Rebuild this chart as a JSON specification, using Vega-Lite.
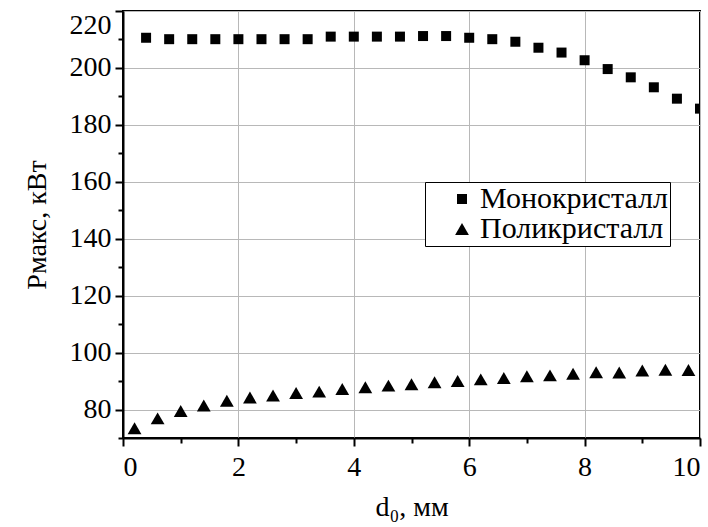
{
  "$schema": "https://vega.github.io/schema/vega-lite/v6.json",
  "width": 577,
  "height": 427,
  "autosize": "none",
  "padding": {"left": 123, "top": 11, "right": 8, "bottom": 89},
  "background": "white",
  "config": {
    "font": "Liberation Serif",
    "view": {"stroke": "black", "strokeWidth": 2}
  },
  "data": {
    "values": [
      {"d": 0.4, "P": 210.6, "series": "Монокристалл"},
      {"d": 0.8, "P": 210.1, "series": "Монокристалл"},
      {"d": 1.2, "P": 210.1, "series": "Монокристалл"},
      {"d": 1.6, "P": 210.1, "series": "Монокристалл"},
      {"d": 2.0, "P": 210.1, "series": "Монокристалл"},
      {"d": 2.4, "P": 210.1, "series": "Монокристалл"},
      {"d": 2.8, "P": 210.1, "series": "Монокристалл"},
      {"d": 3.2, "P": 210.1, "series": "Монокристалл"},
      {"d": 3.6, "P": 211.0, "series": "Монокристалл"},
      {"d": 4.0, "P": 211.0, "series": "Монокристалл"},
      {"d": 4.4, "P": 211.0, "series": "Монокристалл"},
      {"d": 4.8, "P": 211.0, "series": "Монокристалл"},
      {"d": 5.2, "P": 211.2, "series": "Монокристалл"},
      {"d": 5.6, "P": 211.2, "series": "Монокристалл"},
      {"d": 6.0, "P": 210.6, "series": "Монокристалл"},
      {"d": 6.4, "P": 210.1, "series": "Монокристалл"},
      {"d": 6.8, "P": 209.2, "series": "Монокристалл"},
      {"d": 7.2, "P": 207.1, "series": "Монокристалл"},
      {"d": 7.6, "P": 205.4, "series": "Монокристалл"},
      {"d": 8.0, "P": 202.7, "series": "Монокристалл"},
      {"d": 8.4, "P": 199.6, "series": "Монокристалл"},
      {"d": 8.8, "P": 196.7, "series": "Монокристалл"},
      {"d": 9.2, "P": 193.2, "series": "Монокристалл"},
      {"d": 9.6, "P": 189.2, "series": "Монокристалл"},
      {"d": 10.0, "P": 185.7, "series": "Монокристалл"},
      {"d": 0.2, "P": 73.4, "series": "Поликристалл"},
      {"d": 0.6, "P": 76.9, "series": "Поликристалл"},
      {"d": 1.0, "P": 79.5, "series": "Поликристалл"},
      {"d": 1.4, "P": 81.4, "series": "Поликристалл"},
      {"d": 1.8, "P": 83.1, "series": "Поликристалл"},
      {"d": 2.2, "P": 84.2, "series": "Поликристалл"},
      {"d": 2.6, "P": 84.9, "series": "Поликристалл"},
      {"d": 3.0, "P": 85.8, "series": "Поликристалл"},
      {"d": 3.4, "P": 86.3, "series": "Поликристалл"},
      {"d": 3.8, "P": 87.2, "series": "Поликристалл"},
      {"d": 4.2, "P": 87.8, "series": "Поликристалл"},
      {"d": 4.6, "P": 88.4, "series": "Поликристалл"},
      {"d": 5.0, "P": 88.9, "series": "Поликристалл"},
      {"d": 5.4, "P": 89.6, "series": "Поликристалл"},
      {"d": 5.8, "P": 90.0, "series": "Поликристалл"},
      {"d": 6.2, "P": 90.6, "series": "Поликристалл"},
      {"d": 6.6, "P": 91.1, "series": "Поликристалл"},
      {"d": 7.0, "P": 91.7, "series": "Поликристалл"},
      {"d": 7.4, "P": 92.0, "series": "Поликристалл"},
      {"d": 7.8, "P": 92.6, "series": "Поликристалл"},
      {"d": 8.2, "P": 93.1, "series": "Поликристалл"},
      {"d": 8.6, "P": 93.0, "series": "Поликристалл"},
      {"d": 9.0, "P": 93.7, "series": "Поликристалл"},
      {"d": 9.4, "P": 94.0, "series": "Поликристалл"},
      {"d": 9.8, "P": 93.9, "series": "Поликристалл"}
    ]
  },
  "layer": [
    {
      "mark": {"type": "point", "filled": true, "opacity": 1, "color": "black", "clip": true},
      "encoding": {
        "x": {
          "field": "d", "type": "quantitative",
          "scale": {"domain": [0, 10], "nice": false, "zero": false},
          "axis": {
            "orient": "bottom",
            "values": [0, 2, 4, 6, 8, 10],
            "grid": true, "gridColor": "#b8b8b8", "gridWidth": 1,
            "tickSize": 8, "tickColor": "black", "tickWidth": 2,
            "domainColor": "black", "domainWidth": 2,
            "labelFontSize": 28, "labelColor": "black", "labelPadding": 7, "labelFlush": true,
            "title": "d₀, мм", "titleFontSize": 28, "titleFontWeight": "normal", "titleColor": "black", "titlePadding": 12
          }
        },
        "y": {
          "field": "P", "type": "quantitative",
          "scale": {"domain": [70, 220], "nice": false, "zero": false},
          "axis": {
            "orient": "left",
            "values": [80, 100, 120, 140, 160, 180, 200, 220],
            "grid": true, "gridColor": "#b8b8b8", "gridWidth": 1,
            "tickSize": 8, "tickColor": "black", "tickWidth": 2,
            "domainColor": "black", "domainWidth": 2,
            "labelFontSize": 28, "labelColor": "black", "labelPadding": 4, "labelFlush": true,
            "title": "Pмакс, кВт", "titleFontSize": 28, "titleFontWeight": "normal", "titleColor": "black", "titlePadding": 18
          }
        },
        "shape": {
          "field": "series", "type": "nominal",
          "scale": {"domain": ["Монокристалл", "Поликристалл"], "range": ["square", "triangle-up"]},
          "legend": {
            "title": null, "orient": "none", "legendX": 302, "legendY": 171,
            "strokeColor": "black", "padding": 2, "cornerRadius": 0, "fillColor": "white",
            "labelFontSize": 30, "labelFont": "Liberation Serif", "labelColor": "black", "labelOffset": 3,
            "labelLimit": 400,
            "symbolFillColor": "black", "symbolStrokeColor": "black", "symbolOffset": 20,
            "rowPadding": 0
          }
        },
        "size": {
          "field": "series", "type": "nominal",
          "scale": {"domain": ["Монокристалл", "Поликристалл"], "range": [100, 190]}
        }
      }
    },
    {
      "mark": {"type": "point", "opacity": 0},
      "encoding": {
        "x": {
          "field": "d", "type": "quantitative",
          "scale": {"domain": [0, 10], "nice": false, "zero": false},
          "axis": {
            "orient": "bottom", "values": [1, 3, 5, 7, 9],
            "grid": false, "domain": false, "labels": false, "title": null,
            "tickSize": 5, "tickColor": "black", "tickWidth": 2
          }
        },
        "y": {
          "field": "P", "type": "quantitative",
          "scale": {"domain": [70, 220], "nice": false, "zero": false},
          "axis": {
            "orient": "left", "values": [70, 90, 110, 130, 150, 170, 190, 210],
            "grid": false, "domain": false, "labels": false, "title": null,
            "tickSize": 5, "tickColor": "black", "tickWidth": 2
          }
        }
      }
    }
  ],
  "resolve": {"axis": {"x": "independent", "y": "independent"}}
}
